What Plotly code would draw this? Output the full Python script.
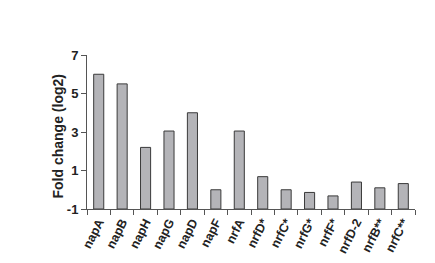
import plotly.graph_objects as go

genes = ["napA", "napB", "napH", "napG", "napD", "napF", "nrfA",
         "nrfD*", "nrfC*", "nrfG*", "nrfF*", "nrfD-2", "nrfB**", "nrfC**"]
fold_change = [6.0, 5.5, 2.2, 3.05, 4.0, 0.0, 3.05,
               0.68, 0.0, -0.14, -0.32, 0.4, 0.1, 0.32]
y_ticks = [-1, 1, 3, 5, 7]
y_title = "Fold change (log2)"
base_value = -1

heights = [v - base_value for v in fold_change]

fig = go.Figure(go.Bar(
    x=genes, y=heights, base=base_value,
    marker=dict(color="#b4b4b8", line=dict(color="#3a3a3a", width=1)),
    width=0.43,
))

font_family = "Liberation Sans, Arial, sans-serif"
fig.update_layout(
    width=435, height=263,
    margin=dict(l=87, r=20, t=55, b=54),
    paper_bgcolor="white", plot_bgcolor="white",
    showlegend=False,
    font=dict(family=font_family, color="#222"),
    xaxis=dict(
        type="category", tickangle=-63, tickson="boundaries", automargin=False,
        ticks="outside", ticklen=5, tickcolor="#555", tickwidth=1,
        showline=True, linecolor="#555", linewidth=1,
        tickfont=dict(size=12.5, family=font_family, color="#222", weight="bold"),
        showgrid=False, range=[-0.5, len(genes) - 0.5],
    ),
    yaxis=dict(
        range=[-1, 7], tickvals=y_ticks, ticktext=[str(t) for t in y_ticks],
        automargin=False,
        ticks="outside", ticklen=5, tickcolor="#555", tickwidth=1,
        showline=True, linecolor="#555", linewidth=1,
        showgrid=False, zeroline=False,
        tickfont=dict(size=13, family=font_family, color="#222", weight="bold"),
    ),
    annotations=[dict(
        text=y_title, textangle=-90, showarrow=False,
        xref="paper", yref="paper", x=(57.5 - 87) / 328, y=(209 - 137) / 154,
        xanchor="center", yanchor="middle",
        font=dict(size=14, family=font_family, color="#222", weight="bold"),
    )],
)

fig.write_html("out.html")
